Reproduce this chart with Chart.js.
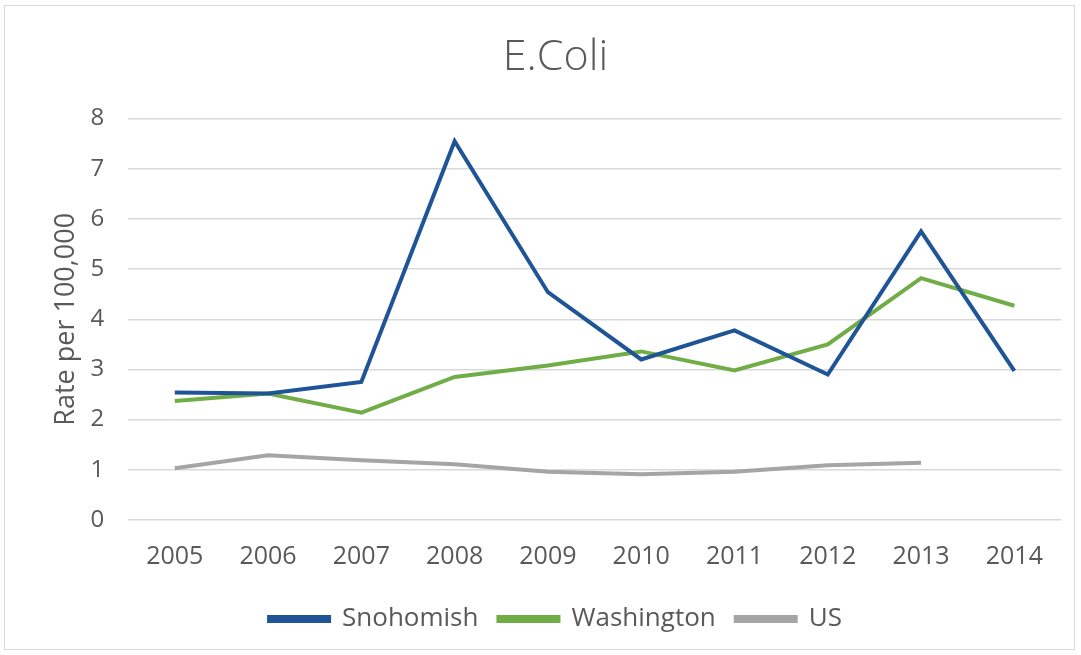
<!DOCTYPE html>
<html><head><meta charset="utf-8">
<script src="https://cdn.jsdelivr.net/npm/chart.js@4"></script>
<style>
html,body{margin:0;padding:0;background:#fff;}
#wrap{position:absolute;left:4px;top:5px;width:1071px;height:645px;border:1px solid #d9d9d9;box-sizing:border-box;}
canvas{position:absolute;left:0;top:0;}
</style></head>
<body>
<div id="wrap"></div>
<canvas id="c" width="1081" height="655"></canvas>
<script>
const categories = ['2005','2006','2007','2008','2009','2010','2011','2012','2013','2014'];
const snohomish = [2.54, 2.52, 2.75, 7.55, 4.54, 3.2, 3.78, 2.9, 5.75, 2.97];
const washington = [2.37, 2.52, 2.14, 2.85, 3.08, 3.36, 2.98, 3.5, 4.82, 4.27];
const us = [1.03, 1.29, 1.19, 1.11, 0.96, 0.91, 0.96, 1.09, 1.14, null];
const yTicks = [0,1,2,3,4,5,6,7,8];

const FONT = "'Open Sans', Lato, sans-serif";
const GREY = '#595959';
new Chart(document.getElementById('c'), {
  type: 'line',
  data: {
    labels: categories,
    datasets: [
      {label:'Snohomish', data:snohomish, borderColor:'#1f5597', backgroundColor:'#1f5597', borderWidth:4, pointRadius:0, tension:0},
      {label:'Washington', data:washington, borderColor:'#70ad47', backgroundColor:'#70ad47', borderWidth:4, pointRadius:0, tension:0},
      {label:'US', data:us, borderColor:'#a5a5a5', backgroundColor:'#a5a5a5', borderWidth:4, pointRadius:0, tension:0}
    ]
  },
  options: {
    responsive:false, animation:false,
    layout:{padding:{left:50, right:20, top:32, bottom:13}},
    plugins:{
      title:{display:true, text:'E.Coli', color:GREY, font:{family:FONT, size:43, weight:'300'}, padding:{top:0,bottom:35}},
      legend:{position:'bottom', labels:{color:GREY, font:{family:FONT, size:26}, boxWidth:60, boxHeight:4, padding:20}},
      tooltip:{enabled:false}
    },
    scales:{
      x:{offset:true, grid:{display:false}, border:{display:false},
         ticks:{color:GREY, font:{family:FONT, size:25}, padding:14}},
      y:{min:0, max:8, afterBuildTicks:(s)=>{s.ticks = yTicks.map(v=>({value:v}));},
         grid:{color:'#d9d9d9', lineWidth:1.5, drawTicks:false}, border:{display:false},
         ticks:{color:GREY, font:{family:FONT, size:24}, padding:24},
         title:{display:true, text:'Rate per 100,000', color:GREY, font:{family:FONT, size:27}, padding:{top:0,bottom:-16}}}
    }
  }
});
</script>
</body></html>
